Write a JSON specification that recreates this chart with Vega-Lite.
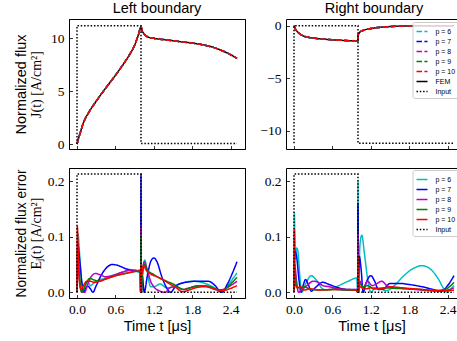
{
  "$schema": "https://vega.github.io/schema/vega-lite/v6.json",
  "background": "white",
  "padding": {"left": 12, "right": 0, "top": 0, "bottom": 0},
  "columns": 2,
  "spacing": {"row": 15, "column": 13},
  "resolve": {"scale": {"color": "independent", "strokeDash": "independent"}},
  "datasets": {
    "tl": [
      {"s":"FEM","t":0,"v":0},{"s":"FEM","t":0.02,"v":0.45},{"s":"FEM","t":0.05,"v":1.05},{"s":"FEM","t":0.1,"v":2.0},{"s":"FEM","t":0.2,"v":3.15},{"s":"FEM","t":0.3,"v":4.05},{"s":"FEM","t":0.4,"v":4.9},{"s":"FEM","t":0.5,"v":5.7},{"s":"FEM","t":0.6,"v":6.5},{"s":"FEM","t":0.7,"v":7.35},{"s":"FEM","t":0.8,"v":8.25},{"s":"FEM","t":0.9,"v":9.35},{"s":"FEM","t":0.96,"v":10.35},{"s":"FEM","t":1.0,"v":11.1},{"s":"FEM","t":1.02,"v":10.7},{"s":"FEM","t":1.05,"v":10.4},{"s":"FEM","t":1.1,"v":10.15},{"s":"FEM","t":1.2,"v":10.0},{"s":"FEM","t":1.4,"v":9.85},{"s":"FEM","t":1.6,"v":9.7},{"s":"FEM","t":1.8,"v":9.55},{"s":"FEM","t":2.0,"v":9.35},{"s":"FEM","t":2.1,"v":9.2},{"s":"FEM","t":2.2,"v":9.0},{"s":"FEM","t":2.3,"v":8.75},{"s":"FEM","t":2.4,"v":8.45},{"s":"FEM","t":2.5,"v":8.1},
      {"s":"p = 6","t":0,"v":0},{"s":"p = 6","t":0.02,"v":0.45},{"s":"p = 6","t":0.05,"v":1.05},{"s":"p = 6","t":0.1,"v":2.0},{"s":"p = 6","t":0.2,"v":3.15},{"s":"p = 6","t":0.3,"v":4.05},{"s":"p = 6","t":0.4,"v":4.9},{"s":"p = 6","t":0.5,"v":5.7},{"s":"p = 6","t":0.6,"v":6.5},{"s":"p = 6","t":0.7,"v":7.35},{"s":"p = 6","t":0.8,"v":8.25},{"s":"p = 6","t":0.9,"v":9.35},{"s":"p = 6","t":0.96,"v":10.35},{"s":"p = 6","t":1.0,"v":11.1},{"s":"p = 6","t":1.02,"v":10.7},{"s":"p = 6","t":1.05,"v":10.4},{"s":"p = 6","t":1.1,"v":10.15},{"s":"p = 6","t":1.2,"v":10.0},{"s":"p = 6","t":1.4,"v":9.85},{"s":"p = 6","t":1.6,"v":9.7},{"s":"p = 6","t":1.8,"v":9.55},{"s":"p = 6","t":2.0,"v":9.35},{"s":"p = 6","t":2.1,"v":9.2},{"s":"p = 6","t":2.2,"v":9.0},{"s":"p = 6","t":2.3,"v":8.75},{"s":"p = 6","t":2.4,"v":8.45},{"s":"p = 6","t":2.5,"v":8.1},
      {"s":"p = 7","t":0,"v":0},{"s":"p = 7","t":0.02,"v":0.45},{"s":"p = 7","t":0.05,"v":1.05},{"s":"p = 7","t":0.1,"v":2.0},{"s":"p = 7","t":0.2,"v":3.15},{"s":"p = 7","t":0.3,"v":4.05},{"s":"p = 7","t":0.4,"v":4.9},{"s":"p = 7","t":0.5,"v":5.7},{"s":"p = 7","t":0.6,"v":6.5},{"s":"p = 7","t":0.7,"v":7.35},{"s":"p = 7","t":0.8,"v":8.25},{"s":"p = 7","t":0.9,"v":9.35},{"s":"p = 7","t":0.96,"v":10.35},{"s":"p = 7","t":1.0,"v":11.1},{"s":"p = 7","t":1.02,"v":10.7},{"s":"p = 7","t":1.05,"v":10.4},{"s":"p = 7","t":1.1,"v":10.15},{"s":"p = 7","t":1.2,"v":10.0},{"s":"p = 7","t":1.4,"v":9.85},{"s":"p = 7","t":1.6,"v":9.7},{"s":"p = 7","t":1.8,"v":9.55},{"s":"p = 7","t":2.0,"v":9.35},{"s":"p = 7","t":2.1,"v":9.2},{"s":"p = 7","t":2.2,"v":9.0},{"s":"p = 7","t":2.3,"v":8.75},{"s":"p = 7","t":2.4,"v":8.45},{"s":"p = 7","t":2.5,"v":8.1},
      {"s":"p = 8","t":0,"v":0},{"s":"p = 8","t":0.02,"v":0.45},{"s":"p = 8","t":0.05,"v":1.05},{"s":"p = 8","t":0.1,"v":2.0},{"s":"p = 8","t":0.2,"v":3.15},{"s":"p = 8","t":0.3,"v":4.05},{"s":"p = 8","t":0.4,"v":4.9},{"s":"p = 8","t":0.5,"v":5.7},{"s":"p = 8","t":0.6,"v":6.5},{"s":"p = 8","t":0.7,"v":7.35},{"s":"p = 8","t":0.8,"v":8.25},{"s":"p = 8","t":0.9,"v":9.35},{"s":"p = 8","t":0.96,"v":10.35},{"s":"p = 8","t":1.0,"v":11.1},{"s":"p = 8","t":1.02,"v":10.7},{"s":"p = 8","t":1.05,"v":10.4},{"s":"p = 8","t":1.1,"v":10.15},{"s":"p = 8","t":1.2,"v":10.0},{"s":"p = 8","t":1.4,"v":9.85},{"s":"p = 8","t":1.6,"v":9.7},{"s":"p = 8","t":1.8,"v":9.55},{"s":"p = 8","t":2.0,"v":9.35},{"s":"p = 8","t":2.1,"v":9.2},{"s":"p = 8","t":2.2,"v":9.0},{"s":"p = 8","t":2.3,"v":8.75},{"s":"p = 8","t":2.4,"v":8.45},{"s":"p = 8","t":2.5,"v":8.1},
      {"s":"p = 9","t":0,"v":0},{"s":"p = 9","t":0.02,"v":0.45},{"s":"p = 9","t":0.05,"v":1.05},{"s":"p = 9","t":0.1,"v":2.0},{"s":"p = 9","t":0.2,"v":3.15},{"s":"p = 9","t":0.3,"v":4.05},{"s":"p = 9","t":0.4,"v":4.9},{"s":"p = 9","t":0.5,"v":5.7},{"s":"p = 9","t":0.6,"v":6.5},{"s":"p = 9","t":0.7,"v":7.35},{"s":"p = 9","t":0.8,"v":8.25},{"s":"p = 9","t":0.9,"v":9.35},{"s":"p = 9","t":0.96,"v":10.35},{"s":"p = 9","t":1.0,"v":11.1},{"s":"p = 9","t":1.02,"v":10.7},{"s":"p = 9","t":1.05,"v":10.4},{"s":"p = 9","t":1.1,"v":10.15},{"s":"p = 9","t":1.2,"v":10.0},{"s":"p = 9","t":1.4,"v":9.85},{"s":"p = 9","t":1.6,"v":9.7},{"s":"p = 9","t":1.8,"v":9.55},{"s":"p = 9","t":2.0,"v":9.35},{"s":"p = 9","t":2.1,"v":9.2},{"s":"p = 9","t":2.2,"v":9.0},{"s":"p = 9","t":2.3,"v":8.75},{"s":"p = 9","t":2.4,"v":8.45},{"s":"p = 9","t":2.5,"v":8.1},
      {"s":"p = 10","t":0,"v":0},{"s":"p = 10","t":0.02,"v":0.45},{"s":"p = 10","t":0.05,"v":1.05},{"s":"p = 10","t":0.1,"v":2.0},{"s":"p = 10","t":0.2,"v":3.15},{"s":"p = 10","t":0.3,"v":4.05},{"s":"p = 10","t":0.4,"v":4.9},{"s":"p = 10","t":0.5,"v":5.7},{"s":"p = 10","t":0.6,"v":6.5},{"s":"p = 10","t":0.7,"v":7.35},{"s":"p = 10","t":0.8,"v":8.25},{"s":"p = 10","t":0.9,"v":9.35},{"s":"p = 10","t":0.96,"v":10.35},{"s":"p = 10","t":1.0,"v":11.1},{"s":"p = 10","t":1.02,"v":10.7},{"s":"p = 10","t":1.05,"v":10.4},{"s":"p = 10","t":1.1,"v":10.15},{"s":"p = 10","t":1.2,"v":10.0},{"s":"p = 10","t":1.4,"v":9.85},{"s":"p = 10","t":1.6,"v":9.7},{"s":"p = 10","t":1.8,"v":9.55},{"s":"p = 10","t":2.0,"v":9.35},{"s":"p = 10","t":2.1,"v":9.2},{"s":"p = 10","t":2.2,"v":9.0},{"s":"p = 10","t":2.3,"v":8.75},{"s":"p = 10","t":2.4,"v":8.45},{"s":"p = 10","t":2.5,"v":8.1},
      {"s":"Input","t":0,"v":0},{"s":"Input","t":0,"v":11.2},{"s":"Input","t":1.0,"v":11.2},{"s":"Input","t":1.0,"v":0.05},{"s":"Input","t":2.5,"v":0.05}
    ],
    "tr": [
      {"s":"FEM","t":0,"v":0},{"s":"FEM","t":0.02,"v":-0.3},{"s":"FEM","t":0.05,"v":-0.55},{"s":"FEM","t":0.1,"v":-0.82},{"s":"FEM","t":0.15,"v":-0.98},{"s":"FEM","t":0.2,"v":-1.08},{"s":"FEM","t":0.3,"v":-1.18},{"s":"FEM","t":0.4,"v":-1.25},{"s":"FEM","t":0.5,"v":-1.3},{"s":"FEM","t":0.6,"v":-1.34},{"s":"FEM","t":0.7,"v":-1.38},{"s":"FEM","t":0.8,"v":-1.41},{"s":"FEM","t":0.9,"v":-1.44},{"s":"FEM","t":1.0,"v":-1.48},{"s":"FEM","t":1.005,"v":-0.85},{"s":"FEM","t":1.02,"v":-0.68},{"s":"FEM","t":1.05,"v":-0.52},{"s":"FEM","t":1.1,"v":-0.4},{"s":"FEM","t":1.2,"v":-0.27},{"s":"FEM","t":1.3,"v":-0.18},{"s":"FEM","t":1.45,"v":-0.1},{"s":"FEM","t":1.6,"v":-0.05},{"s":"FEM","t":1.8,"v":-0.02},{"s":"FEM","t":2.0,"v":-0.01},{"s":"FEM","t":2.2,"v":0},{"s":"FEM","t":2.5,"v":0},
      {"s":"p = 6","t":0,"v":0},{"s":"p = 6","t":0.02,"v":-0.3},{"s":"p = 6","t":0.05,"v":-0.55},{"s":"p = 6","t":0.1,"v":-0.82},{"s":"p = 6","t":0.15,"v":-0.98},{"s":"p = 6","t":0.2,"v":-1.08},{"s":"p = 6","t":0.3,"v":-1.18},{"s":"p = 6","t":0.4,"v":-1.25},{"s":"p = 6","t":0.5,"v":-1.3},{"s":"p = 6","t":0.6,"v":-1.34},{"s":"p = 6","t":0.7,"v":-1.38},{"s":"p = 6","t":0.8,"v":-1.41},{"s":"p = 6","t":0.9,"v":-1.44},{"s":"p = 6","t":1.0,"v":-1.48},{"s":"p = 6","t":1.005,"v":-0.85},{"s":"p = 6","t":1.02,"v":-0.68},{"s":"p = 6","t":1.05,"v":-0.52},{"s":"p = 6","t":1.1,"v":-0.4},{"s":"p = 6","t":1.2,"v":-0.27},{"s":"p = 6","t":1.3,"v":-0.18},{"s":"p = 6","t":1.45,"v":-0.1},{"s":"p = 6","t":1.6,"v":-0.05},{"s":"p = 6","t":1.8,"v":-0.02},{"s":"p = 6","t":2.0,"v":-0.01},{"s":"p = 6","t":2.2,"v":0},{"s":"p = 6","t":2.5,"v":0},
      {"s":"p = 7","t":0,"v":0},{"s":"p = 7","t":0.02,"v":-0.3},{"s":"p = 7","t":0.05,"v":-0.55},{"s":"p = 7","t":0.1,"v":-0.82},{"s":"p = 7","t":0.15,"v":-0.98},{"s":"p = 7","t":0.2,"v":-1.08},{"s":"p = 7","t":0.3,"v":-1.18},{"s":"p = 7","t":0.4,"v":-1.25},{"s":"p = 7","t":0.5,"v":-1.3},{"s":"p = 7","t":0.6,"v":-1.34},{"s":"p = 7","t":0.7,"v":-1.38},{"s":"p = 7","t":0.8,"v":-1.41},{"s":"p = 7","t":0.9,"v":-1.44},{"s":"p = 7","t":1.0,"v":-1.48},{"s":"p = 7","t":1.005,"v":-0.85},{"s":"p = 7","t":1.02,"v":-0.68},{"s":"p = 7","t":1.05,"v":-0.52},{"s":"p = 7","t":1.1,"v":-0.4},{"s":"p = 7","t":1.2,"v":-0.27},{"s":"p = 7","t":1.3,"v":-0.18},{"s":"p = 7","t":1.45,"v":-0.1},{"s":"p = 7","t":1.6,"v":-0.05},{"s":"p = 7","t":1.8,"v":-0.02},{"s":"p = 7","t":2.0,"v":-0.01},{"s":"p = 7","t":2.2,"v":0},{"s":"p = 7","t":2.5,"v":0},
      {"s":"p = 8","t":0,"v":0},{"s":"p = 8","t":0.02,"v":-0.3},{"s":"p = 8","t":0.05,"v":-0.55},{"s":"p = 8","t":0.1,"v":-0.82},{"s":"p = 8","t":0.15,"v":-0.98},{"s":"p = 8","t":0.2,"v":-1.08},{"s":"p = 8","t":0.3,"v":-1.18},{"s":"p = 8","t":0.4,"v":-1.25},{"s":"p = 8","t":0.5,"v":-1.3},{"s":"p = 8","t":0.6,"v":-1.34},{"s":"p = 8","t":0.7,"v":-1.38},{"s":"p = 8","t":0.8,"v":-1.41},{"s":"p = 8","t":0.9,"v":-1.44},{"s":"p = 8","t":1.0,"v":-1.48},{"s":"p = 8","t":1.005,"v":-0.85},{"s":"p = 8","t":1.02,"v":-0.68},{"s":"p = 8","t":1.05,"v":-0.52},{"s":"p = 8","t":1.1,"v":-0.4},{"s":"p = 8","t":1.2,"v":-0.27},{"s":"p = 8","t":1.3,"v":-0.18},{"s":"p = 8","t":1.45,"v":-0.1},{"s":"p = 8","t":1.6,"v":-0.05},{"s":"p = 8","t":1.8,"v":-0.02},{"s":"p = 8","t":2.0,"v":-0.01},{"s":"p = 8","t":2.2,"v":0},{"s":"p = 8","t":2.5,"v":0},
      {"s":"p = 9","t":0,"v":0},{"s":"p = 9","t":0.02,"v":-0.3},{"s":"p = 9","t":0.05,"v":-0.55},{"s":"p = 9","t":0.1,"v":-0.82},{"s":"p = 9","t":0.15,"v":-0.98},{"s":"p = 9","t":0.2,"v":-1.08},{"s":"p = 9","t":0.3,"v":-1.18},{"s":"p = 9","t":0.4,"v":-1.25},{"s":"p = 9","t":0.5,"v":-1.3},{"s":"p = 9","t":0.6,"v":-1.34},{"s":"p = 9","t":0.7,"v":-1.38},{"s":"p = 9","t":0.8,"v":-1.41},{"s":"p = 9","t":0.9,"v":-1.44},{"s":"p = 9","t":1.0,"v":-1.48},{"s":"p = 9","t":1.005,"v":-0.85},{"s":"p = 9","t":1.02,"v":-0.68},{"s":"p = 9","t":1.05,"v":-0.52},{"s":"p = 9","t":1.1,"v":-0.4},{"s":"p = 9","t":1.2,"v":-0.27},{"s":"p = 9","t":1.3,"v":-0.18},{"s":"p = 9","t":1.45,"v":-0.1},{"s":"p = 9","t":1.6,"v":-0.05},{"s":"p = 9","t":1.8,"v":-0.02},{"s":"p = 9","t":2.0,"v":-0.01},{"s":"p = 9","t":2.2,"v":0},{"s":"p = 9","t":2.5,"v":0},
      {"s":"p = 10","t":0,"v":0},{"s":"p = 10","t":0.02,"v":-0.3},{"s":"p = 10","t":0.05,"v":-0.55},{"s":"p = 10","t":0.1,"v":-0.82},{"s":"p = 10","t":0.15,"v":-0.98},{"s":"p = 10","t":0.2,"v":-1.08},{"s":"p = 10","t":0.3,"v":-1.18},{"s":"p = 10","t":0.4,"v":-1.25},{"s":"p = 10","t":0.5,"v":-1.3},{"s":"p = 10","t":0.6,"v":-1.34},{"s":"p = 10","t":0.7,"v":-1.38},{"s":"p = 10","t":0.8,"v":-1.41},{"s":"p = 10","t":0.9,"v":-1.44},{"s":"p = 10","t":1.0,"v":-1.48},{"s":"p = 10","t":1.005,"v":-0.85},{"s":"p = 10","t":1.02,"v":-0.68},{"s":"p = 10","t":1.05,"v":-0.52},{"s":"p = 10","t":1.1,"v":-0.4},{"s":"p = 10","t":1.2,"v":-0.27},{"s":"p = 10","t":1.3,"v":-0.18},{"s":"p = 10","t":1.45,"v":-0.1},{"s":"p = 10","t":1.6,"v":-0.05},{"s":"p = 10","t":1.8,"v":-0.02},{"s":"p = 10","t":2.0,"v":-0.01},{"s":"p = 10","t":2.2,"v":0},{"s":"p = 10","t":2.5,"v":0},
      {"s":"Input","t":0,"v":-11.2},{"s":"Input","t":0,"v":0},{"s":"Input","t":1.0,"v":0},{"s":"Input","t":1.0,"v":-11.2},{"s":"Input","t":2.5,"v":-11.2}
    ],
    "bl": [
      {"s":"p = 6","t":0,"v":0},{"s":"p = 6","t":0.015,"v":0.106},{"s":"p = 6","t":0.04,"v":0.07},{"s":"p = 6","t":0.07,"v":0.02},{"s":"p = 6","t":0.1,"v":0.0},{"s":"p = 6","t":0.13,"v":0.012},{"s":"p = 6","t":0.17,"v":0.018},{"s":"p = 6","t":0.21,"v":0.012},{"s":"p = 6","t":0.25,"v":0.015},{"s":"p = 6","t":0.3,"v":0.02},{"s":"p = 6","t":0.4,"v":0.024},{"s":"p = 6","t":0.5,"v":0.028},{"s":"p = 6","t":0.6,"v":0.032},{"s":"p = 6","t":0.7,"v":0.036},{"s":"p = 6","t":0.8,"v":0.039},{"s":"p = 6","t":0.9,"v":0.038},{"s":"p = 6","t":0.98,"v":0.035},{"s":"p = 6","t":0.995,"v":0},{"s":"p = 6","t":1.0,"v":0.09},{"s":"p = 6","t":1.005,"v":0},{"s":"p = 6","t":1.03,"v":0.04},{"s":"p = 6","t":1.06,"v":0.058},{"s":"p = 6","t":1.1,"v":0.035},{"s":"p = 6","t":1.15,"v":0.01},{"s":"p = 6","t":1.2,"v":0.01},{"s":"p = 6","t":1.3,"v":0.015},{"s":"p = 6","t":1.4,"v":0.008},{"s":"p = 6","t":1.5,"v":0.01},{"s":"p = 6","t":1.6,"v":0.015},{"s":"p = 6","t":1.8,"v":0.02},{"s":"p = 6","t":2.0,"v":0.016},{"s":"p = 6","t":2.15,"v":0.008},{"s":"p = 6","t":2.25,"v":0.0},{"s":"p = 6","t":2.35,"v":0.012},{"s":"p = 6","t":2.5,"v":0.035},
      {"s":"p = 7","t":0,"v":0},{"s":"p = 7","t":0.01,"v":0.088},{"s":"p = 7","t":0.04,"v":0.06},{"s":"p = 7","t":0.08,"v":0.015},{"s":"p = 7","t":0.11,"v":0.0},{"s":"p = 7","t":0.14,"v":0.008},{"s":"p = 7","t":0.17,"v":0.011},{"s":"p = 7","t":0.21,"v":0.006},{"s":"p = 7","t":0.25,"v":0.0},{"s":"p = 7","t":0.3,"v":0.012},{"s":"p = 7","t":0.4,"v":0.035},{"s":"p = 7","t":0.5,"v":0.048},{"s":"p = 7","t":0.55,"v":0.05},{"s":"p = 7","t":0.65,"v":0.048},{"s":"p = 7","t":0.75,"v":0.043},{"s":"p = 7","t":0.85,"v":0.04},{"s":"p = 7","t":0.95,"v":0.039},{"s":"p = 7","t":0.99,"v":0.04},{"s":"p = 7","t":0.995,"v":0},{"s":"p = 7","t":1.0,"v":0.213},{"s":"p = 7","t":1.005,"v":0},{"s":"p = 7","t":1.02,"v":0.03},{"s":"p = 7","t":1.05,"v":0.0},{"s":"p = 7","t":1.1,"v":0.03},{"s":"p = 7","t":1.15,"v":0.055},{"s":"p = 7","t":1.2,"v":0.062},{"s":"p = 7","t":1.25,"v":0.055},{"s":"p = 7","t":1.32,"v":0.03},{"s":"p = 7","t":1.4,"v":0.008},{"s":"p = 7","t":1.46,"v":0},{"s":"p = 7","t":1.55,"v":0.012},{"s":"p = 7","t":1.7,"v":0.018},{"s":"p = 7","t":1.9,"v":0.02},{"s":"p = 7","t":2.05,"v":0.02},{"s":"p = 7","t":2.15,"v":0.013},{"s":"p = 7","t":2.26,"v":0},{"s":"p = 7","t":2.35,"v":0.015},{"s":"p = 7","t":2.43,"v":0.035},{"s":"p = 7","t":2.5,"v":0.055},
      {"s":"p = 8","t":0,"v":0},{"s":"p = 8","t":0.01,"v":0.05},{"s":"p = 8","t":0.04,"v":0.02},{"s":"p = 8","t":0.08,"v":0.0},{"s":"p = 8","t":0.12,"v":0.0},{"s":"p = 8","t":0.16,"v":0.012},{"s":"p = 8","t":0.22,"v":0.028},{"s":"p = 8","t":0.29,"v":0.034},{"s":"p = 8","t":0.35,"v":0.032},{"s":"p = 8","t":0.45,"v":0.028},{"s":"p = 8","t":0.55,"v":0.03},{"s":"p = 8","t":0.7,"v":0.036},{"s":"p = 8","t":0.85,"v":0.04},{"s":"p = 8","t":0.95,"v":0.039},{"s":"p = 8","t":0.99,"v":0.038},{"s":"p = 8","t":0.995,"v":0},{"s":"p = 8","t":1.0,"v":0.12},{"s":"p = 8","t":1.005,"v":0},{"s":"p = 8","t":1.02,"v":0.03},{"s":"p = 8","t":1.05,"v":0.055},{"s":"p = 8","t":1.1,"v":0.04},{"s":"p = 8","t":1.15,"v":0.02},{"s":"p = 8","t":1.2,"v":0.01},{"s":"p = 8","t":1.3,"v":0.002},{"s":"p = 8","t":1.38,"v":0.0},{"s":"p = 8","t":1.45,"v":0.008},{"s":"p = 8","t":1.55,"v":0.01},{"s":"p = 8","t":1.65,"v":0.005},{"s":"p = 8","t":1.75,"v":0.008},{"s":"p = 8","t":1.9,"v":0.012},{"s":"p = 8","t":2.05,"v":0.01},{"s":"p = 8","t":2.2,"v":0.004},{"s":"p = 8","t":2.3,"v":0.006},{"s":"p = 8","t":2.4,"v":0.012},{"s":"p = 8","t":2.5,"v":0.02},
      {"s":"p = 9","t":0,"v":0},{"s":"p = 9","t":0.01,"v":0.08},{"s":"p = 9","t":0.04,"v":0.03},{"s":"p = 9","t":0.07,"v":0.0},{"s":"p = 9","t":0.1,"v":0.005},{"s":"p = 9","t":0.15,"v":0.018},{"s":"p = 9","t":0.2,"v":0.025},{"s":"p = 9","t":0.27,"v":0.022},{"s":"p = 9","t":0.35,"v":0.02},{"s":"p = 9","t":0.45,"v":0.024},{"s":"p = 9","t":0.6,"v":0.03},{"s":"p = 9","t":0.8,"v":0.035},{"s":"p = 9","t":0.95,"v":0.038},{"s":"p = 9","t":0.99,"v":0.038},{"s":"p = 9","t":0.995,"v":0},{"s":"p = 9","t":1.0,"v":0.102},{"s":"p = 9","t":1.005,"v":0},{"s":"p = 9","t":1.02,"v":0.03},{"s":"p = 9","t":1.05,"v":0.05},{"s":"p = 9","t":1.1,"v":0.04},{"s":"p = 9","t":1.2,"v":0.032},{"s":"p = 9","t":1.3,"v":0.025},{"s":"p = 9","t":1.4,"v":0.02},{"s":"p = 9","t":1.5,"v":0.015},{"s":"p = 9","t":1.6,"v":0.008},{"s":"p = 9","t":1.68,"v":0.005},{"s":"p = 9","t":1.8,"v":0.009},{"s":"p = 9","t":1.95,"v":0.012},{"s":"p = 9","t":2.05,"v":0.011},{"s":"p = 9","t":2.2,"v":0.005},{"s":"p = 9","t":2.28,"v":0.004},{"s":"p = 9","t":2.4,"v":0.015},{"s":"p = 9","t":2.5,"v":0.027},
      {"s":"p = 10","t":0,"v":0},{"s":"p = 10","t":0.005,"v":0.119},{"s":"p = 10","t":0.03,"v":0.03},{"s":"p = 10","t":0.06,"v":0.005},{"s":"p = 10","t":0.1,"v":0.012},{"s":"p = 10","t":0.15,"v":0.02},{"s":"p = 10","t":0.2,"v":0.02},{"s":"p = 10","t":0.27,"v":0.018},{"s":"p = 10","t":0.35,"v":0.02},{"s":"p = 10","t":0.5,"v":0.026},{"s":"p = 10","t":0.65,"v":0.031},{"s":"p = 10","t":0.8,"v":0.035},{"s":"p = 10","t":0.95,"v":0.038},{"s":"p = 10","t":0.99,"v":0.038},{"s":"p = 10","t":0.995,"v":0},{"s":"p = 10","t":1.0,"v":0.05},{"s":"p = 10","t":1.005,"v":0.03},{"s":"p = 10","t":1.04,"v":0.048},{"s":"p = 10","t":1.08,"v":0.04},{"s":"p = 10","t":1.15,"v":0.033},{"s":"p = 10","t":1.25,"v":0.028},{"s":"p = 10","t":1.35,"v":0.022},{"s":"p = 10","t":1.45,"v":0.015},{"s":"p = 10","t":1.55,"v":0.008},{"s":"p = 10","t":1.65,"v":0.001},{"s":"p = 10","t":1.75,"v":0.004},{"s":"p = 10","t":1.85,"v":0.008},{"s":"p = 10","t":2.0,"v":0.01},{"s":"p = 10","t":2.15,"v":0.006},{"s":"p = 10","t":2.28,"v":0.003},{"s":"p = 10","t":2.4,"v":0.007},{"s":"p = 10","t":2.5,"v":0.012},
      {"s":"Input","t":0,"v":0},{"s":"Input","t":0,"v":0.213},{"s":"Input","t":1.0,"v":0.213},{"s":"Input","t":1.0,"v":0},{"s":"Input","t":2.5,"v":0}
    ],
    "br": [
      {"s":"p = 6","t":0,"v":0},{"s":"p = 6","t":0.005,"v":0.143},{"s":"p = 6","t":0.02,"v":0.06},{"s":"p = 6","t":0.04,"v":0.08},{"s":"p = 6","t":0.06,"v":0.075},{"s":"p = 6","t":0.09,"v":0.03},{"s":"p = 6","t":0.12,"v":0.0},{"s":"p = 6","t":0.18,"v":0.015},{"s":"p = 6","t":0.27,"v":0.03},{"s":"p = 6","t":0.35,"v":0.022},{"s":"p = 6","t":0.45,"v":0.006},{"s":"p = 6","t":0.55,"v":0.004},{"s":"p = 6","t":0.7,"v":0.012},{"s":"p = 6","t":0.85,"v":0.02},{"s":"p = 6","t":0.98,"v":0.026},{"s":"p = 6","t":0.995,"v":0},{"s":"p = 6","t":1.0,"v":0.2},{"s":"p = 6","t":1.005,"v":0},{"s":"p = 6","t":1.03,"v":0.085},{"s":"p = 6","t":1.06,"v":0.103},{"s":"p = 6","t":1.1,"v":0.07},{"s":"p = 6","t":1.15,"v":0.025},{"s":"p = 6","t":1.2,"v":0.0},{"s":"p = 6","t":1.27,"v":0.008},{"s":"p = 6","t":1.35,"v":0.006},{"s":"p = 6","t":1.45,"v":0.003},{"s":"p = 6","t":1.55,"v":0.01},{"s":"p = 6","t":1.7,"v":0.028},{"s":"p = 6","t":1.85,"v":0.042},{"s":"p = 6","t":2.0,"v":0.048},{"s":"p = 6","t":2.12,"v":0.043},{"s":"p = 6","t":2.25,"v":0.025},{"s":"p = 6","t":2.35,"v":0.005},{"s":"p = 6","t":2.4,"v":0.0},{"s":"p = 6","t":2.45,"v":0.006},{"s":"p = 6","t":2.5,"v":0.012},
      {"s":"p = 7","t":0,"v":0},{"s":"p = 7","t":0.01,"v":0.075},{"s":"p = 7","t":0.04,"v":0.065},{"s":"p = 7","t":0.08,"v":0.02},{"s":"p = 7","t":0.11,"v":0.0},{"s":"p = 7","t":0.15,"v":0.015},{"s":"p = 7","t":0.18,"v":0.023},{"s":"p = 7","t":0.22,"v":0.015},{"s":"p = 7","t":0.27,"v":0.002},{"s":"p = 7","t":0.33,"v":0.008},{"s":"p = 7","t":0.45,"v":0.018},{"s":"p = 7","t":0.55,"v":0.014},{"s":"p = 7","t":0.7,"v":0.008},{"s":"p = 7","t":0.85,"v":0.005},{"s":"p = 7","t":0.98,"v":0.005},{"s":"p = 7","t":0.995,"v":0},{"s":"p = 7","t":1.0,"v":0.16},{"s":"p = 7","t":1.005,"v":0},{"s":"p = 7","t":1.02,"v":0.065},{"s":"p = 7","t":1.05,"v":0.04},{"s":"p = 7","t":1.08,"v":0.0},{"s":"p = 7","t":1.13,"v":0.018},{"s":"p = 7","t":1.2,"v":0.03},{"s":"p = 7","t":1.26,"v":0.02},{"s":"p = 7","t":1.32,"v":0.005},{"s":"p = 7","t":1.4,"v":0.006},{"s":"p = 7","t":1.5,"v":0.016},{"s":"p = 7","t":1.65,"v":0.016},{"s":"p = 7","t":1.8,"v":0.014},{"s":"p = 7","t":2.0,"v":0.01},{"s":"p = 7","t":2.15,"v":0.006},{"s":"p = 7","t":2.3,"v":0.002},{"s":"p = 7","t":2.4,"v":0.012},{"s":"p = 7","t":2.5,"v":0.03},
      {"s":"p = 8","t":0,"v":0},{"s":"p = 8","t":0.01,"v":0.05},{"s":"p = 8","t":0.04,"v":0.02},{"s":"p = 8","t":0.07,"v":0.0},{"s":"p = 8","t":0.12,"v":0.005},{"s":"p = 8","t":0.2,"v":0.012},{"s":"p = 8","t":0.3,"v":0.02},{"s":"p = 8","t":0.38,"v":0.018},{"s":"p = 8","t":0.45,"v":0.012},{"s":"p = 8","t":0.55,"v":0.01},{"s":"p = 8","t":0.7,"v":0.006},{"s":"p = 8","t":0.85,"v":0.004},{"s":"p = 8","t":0.98,"v":0.004},{"s":"p = 8","t":0.995,"v":0},{"s":"p = 8","t":1.0,"v":0.105},{"s":"p = 8","t":1.005,"v":0},{"s":"p = 8","t":1.03,"v":0.02},{"s":"p = 8","t":1.08,"v":0.008},{"s":"p = 8","t":1.15,"v":0.02},{"s":"p = 8","t":1.22,"v":0.012},{"s":"p = 8","t":1.3,"v":0.016},{"s":"p = 8","t":1.37,"v":0.02},{"s":"p = 8","t":1.45,"v":0.012},{"s":"p = 8","t":1.55,"v":0.008},{"s":"p = 8","t":1.7,"v":0.007},{"s":"p = 8","t":1.9,"v":0.005},{"s":"p = 8","t":2.1,"v":0.003},{"s":"p = 8","t":2.3,"v":0.002},{"s":"p = 8","t":2.4,"v":0.004},{"s":"p = 8","t":2.5,"v":0.008},
      {"s":"p = 9","t":0,"v":0},{"s":"p = 9","t":0.01,"v":0.04},{"s":"p = 9","t":0.04,"v":0.012},{"s":"p = 9","t":0.08,"v":0.008},{"s":"p = 9","t":0.15,"v":0.01},{"s":"p = 9","t":0.25,"v":0.006},{"s":"p = 9","t":0.4,"v":0.004},{"s":"p = 9","t":0.6,"v":0.005},{"s":"p = 9","t":0.8,"v":0.004},{"s":"p = 9","t":0.98,"v":0.004},{"s":"p = 9","t":0.995,"v":0},{"s":"p = 9","t":1.0,"v":0.065},{"s":"p = 9","t":1.005,"v":0},{"s":"p = 9","t":1.03,"v":0.015},{"s":"p = 9","t":1.08,"v":0.01},{"s":"p = 9","t":1.15,"v":0.012},{"s":"p = 9","t":1.25,"v":0.006},{"s":"p = 9","t":1.4,"v":0.008},{"s":"p = 9","t":1.6,"v":0.007},{"s":"p = 9","t":1.8,"v":0.006},{"s":"p = 9","t":2.0,"v":0.005},{"s":"p = 9","t":2.2,"v":0.003},{"s":"p = 9","t":2.35,"v":0.005},{"s":"p = 9","t":2.45,"v":0.012},{"s":"p = 9","t":2.5,"v":0.018},
      {"s":"p = 10","t":0,"v":0},{"s":"p = 10","t":0.005,"v":0.112},{"s":"p = 10","t":0.02,"v":0.015},{"s":"p = 10","t":0.05,"v":0.008},{"s":"p = 10","t":0.1,"v":0.01},{"s":"p = 10","t":0.15,"v":0.004},{"s":"p = 10","t":0.25,"v":0.006},{"s":"p = 10","t":0.4,"v":0.004},{"s":"p = 10","t":0.6,"v":0.005},{"s":"p = 10","t":0.8,"v":0.005},{"s":"p = 10","t":0.98,"v":0.004},{"s":"p = 10","t":0.995,"v":0},{"s":"p = 10","t":1.0,"v":0.065},{"s":"p = 10","t":1.005,"v":0.005},{"s":"p = 10","t":1.03,"v":0.01},{"s":"p = 10","t":1.1,"v":0.006},{"s":"p = 10","t":1.2,"v":0.008},{"s":"p = 10","t":1.35,"v":0.006},{"s":"p = 10","t":1.5,"v":0.01},{"s":"p = 10","t":1.7,"v":0.008},{"s":"p = 10","t":1.9,"v":0.006},{"s":"p = 10","t":2.1,"v":0.004},{"s":"p = 10","t":2.3,"v":0.003},{"s":"p = 10","t":2.5,"v":0.004},
      {"s":"Input","t":0,"v":0},{"s":"Input","t":0,"v":0.213},{"s":"Input","t":1.0,"v":0.213},{"s":"Input","t":1.0,"v":0},{"s":"Input","t":2.5,"v":0}
    ]
  },
  "concat": [
    {
      "title": {"text": "Left boundary"},
      "width": 176, "height": 130,
      "data": {"name": "tl"},
      "encoding": {
        "color": {"field": "s", "type": "nominal", "scale": {"domain": ["p = 6","p = 7","p = 8","p = 9","p = 10","FEM","Input"], "range": ["#00bfbf","#0000ff","#bf00bf","#008000","#ff0000","#000000","#000000"]}, "legend": null},
        "strokeDash": {"field": "s", "type": "nominal", "scale": {"domain": ["p = 6","p = 7","p = 8","p = 9","p = 10","FEM","Input"], "range": [[5.5,2.4],[5.5,2.4],[5.5,2.4],[5.5,2.4],[5.5,2.4],[1,0],[1.5,1.8]]}, "legend": null},
        "order": {"value": null}
      },
      "layer": [
        {"transform": [{"filter": "datum.s == 'FEM'"}], "mark": {"type": "line", "interpolate": "monotone"},
         "encoding": {
           "x": {"field": "t", "type": "quantitative", "scale": {"domain": [-0.125, 2.625], "nice": false, "zero": false}, "axis": null},
           "y": {"field": "v", "type": "quantitative", "scale": {"domain": [-0.47, 11.83], "nice": false, "zero": false}, "axis": null}}},
        {"transform": [{"filter": "datum.s != 'FEM' && datum.s != 'Input'"}], "mark": {"type": "line", "interpolate": "monotone"},
         "encoding": {
           "x": {"field": "t", "type": "quantitative", "scale": {"domain": [-0.125, 2.625], "nice": false, "zero": false}, "axis": {"orient": "bottom", "values": [0, 0.6, 1.2, 1.8, 2.4], "labels": false, "title": null}},
           "y": {"field": "v", "type": "quantitative", "scale": {"domain": [-0.47, 11.83], "nice": false, "zero": false}, "axis": {"orient": "left", "values": [0, 5, 10], "format": "d", "title": "Normalized flux", "titleX": -48, "titleBaseline": "middle"}}}},
        {"transform": [{"filter": "datum.s == 'Input'"}], "mark": {"type": "line"},
         "encoding": {
           "x": {"field": "t", "type": "quantitative", "scale": {"domain": [-0.125, 2.625], "nice": false, "zero": false}, "axis": {"orient": "top", "labels": false, "ticks": false, "title": null}},
           "y": {"field": "v", "type": "quantitative", "scale": {"domain": [-0.47, 11.83], "nice": false, "zero": false}, "axis": {"orient": "left", "labels": false, "ticks": false, "domain": false, "title": "J(t)  [A/cm²]", "titleX": -33, "titleBaseline": "middle", "titleFont": "Liberation Serif", "titleFontSize": 14}}}}
      ],
      "resolve": {"axis": {"x": "independent", "y": "independent"}}
    },
    {
      "title": {"text": "Right boundary", "dx": 2.5},
      "width": 171, "height": 130,
      "view": {"stroke": null},
      "data": {"name": "tr"},
      "encoding": {
        "color": {"field": "s", "type": "nominal", "scale": {"domain": ["p = 6","p = 7","p = 8","p = 9","p = 10","FEM","Input"], "range": ["#00bfbf","#0000ff","#bf00bf","#008000","#ff0000","#000000","#000000"]}, "legend": {"legendX": 126.5, "legendY": 3}},
        "strokeDash": {"field": "s", "type": "nominal", "scale": {"domain": ["p = 6","p = 7","p = 8","p = 9","p = 10","FEM","Input"], "range": [[5.5,2.4],[5.5,2.4],[5.5,2.4],[5.5,2.4],[5.5,2.4],[1,0],[1.5,1.8]]}, "legend": {"legendX": 126.5, "legendY": 3}},
        "order": {"value": null}
      },
      "layer": [
        {"transform": [{"filter": "datum.s == 'FEM'"}], "mark": {"type": "line", "interpolate": "monotone"},
         "encoding": {
           "x": {"field": "t", "type": "quantitative", "scale": {"domain": [-0.125, 2.547], "nice": false, "zero": false}, "axis": null},
           "y": {"field": "v", "type": "quantitative", "scale": {"domain": [-11.74, 0.64], "nice": false, "zero": false}, "axis": null}}},
        {"transform": [{"filter": "datum.s != 'FEM' && datum.s != 'Input'"}], "mark": {"type": "line", "interpolate": "monotone"},
         "encoding": {
           "x": {"field": "t", "type": "quantitative", "scale": {"domain": [-0.125, 2.547], "nice": false, "zero": false}, "axis": {"orient": "bottom", "values": [0, 0.6, 1.2, 1.8, 2.4], "labels": false, "title": null}},
           "y": {"field": "v", "type": "quantitative", "scale": {"domain": [-11.74, 0.64], "nice": false, "zero": false}, "axis": {"orient": "left", "values": [-10, -5, 0], "format": "d", "title": null}}}},
        {"transform": [{"filter": "datum.s == 'Input'"}], "mark": {"type": "line"},
         "encoding": {
           "x": {"field": "t", "type": "quantitative", "scale": {"domain": [-0.125, 2.547], "nice": false, "zero": false}, "axis": {"orient": "top", "labels": false, "ticks": false, "title": null}},
           "y": {"field": "v", "type": "quantitative", "scale": {"domain": [-11.74, 0.64], "nice": false, "zero": false}, "axis": null}}}
      ],
      "resolve": {"axis": {"x": "independent", "y": "independent"}}
    },
    {
      "width": 176, "height": 130,
      "data": {"name": "bl"},
      "encoding": {
        "color": {"field": "s", "type": "nominal", "scale": {"domain": ["p = 6","p = 7","p = 8","p = 9","p = 10","Input"], "range": ["#00bfbf","#0000ff","#bf00bf","#008000","#ff0000","#000000"]}, "legend": null},
        "strokeDash": {"field": "s", "type": "nominal", "scale": {"domain": ["p = 6","p = 7","p = 8","p = 9","p = 10","Input"], "range": [[1,0],[1,0],[1,0],[1,0],[1,0],[1.5,1.8]]}, "legend": null},
        "order": {"value": null}
      },
      "layer": [
        {"transform": [{"filter": "datum.s != 'Input'"}], "mark": {"type": "line", "interpolate": "monotone"},
         "encoding": {
           "x": {"field": "t", "type": "quantitative", "scale": {"domain": [-0.125, 2.625], "nice": false, "zero": false}, "axis": {"orient": "bottom", "values": [0, 0.6, 1.2, 1.8, 2.4], "format": ".1f", "title": "Time t [μs]"}},
           "y": {"field": "v", "type": "quantitative", "scale": {"domain": [-0.0103, 0.224], "nice": false, "zero": false}, "axis": {"orient": "left", "values": [0, 0.1, 0.2], "format": ".1f", "title": "Normalized flux error", "titleX": -48, "titleBaseline": "middle", "titleFontSize": 13.8}}}},
        {"transform": [{"filter": "datum.s == 'Input'"}], "mark": {"type": "line"},
         "encoding": {
           "x": {"field": "t", "type": "quantitative", "scale": {"domain": [-0.125, 2.625], "nice": false, "zero": false}, "axis": {"orient": "top", "labels": false, "ticks": false, "title": null}},
           "y": {"field": "v", "type": "quantitative", "scale": {"domain": [-0.0103, 0.224], "nice": false, "zero": false}, "axis": {"orient": "left", "labels": false, "ticks": false, "domain": false, "title": "Eⱼ(t)  [A/cm²]", "titleX": -33, "titleBaseline": "middle", "titleFont": "Liberation Serif", "titleFontSize": 14}}}}
      ],
      "resolve": {"axis": {"x": "independent", "y": "independent"}}
    },
    {
      "width": 171, "height": 130,
      "view": {"stroke": null},
      "data": {"name": "br"},
      "encoding": {
        "color": {"field": "s", "type": "nominal", "scale": {"domain": ["p = 6","p = 7","p = 8","p = 9","p = 10","Input"], "range": ["#00bfbf","#0000ff","#bf00bf","#008000","#ff0000","#000000"]}, "legend": {"legendX": 126.5, "legendY": 2}},
        "strokeDash": {"field": "s", "type": "nominal", "scale": {"domain": ["p = 6","p = 7","p = 8","p = 9","p = 10","Input"], "range": [[1,0],[1,0],[1,0],[1,0],[1,0],[1.5,1.8]]}, "legend": {"legendX": 126.5, "legendY": 2}},
        "order": {"value": null}
      },
      "layer": [
        {"transform": [{"filter": "datum.s != 'Input'"}], "mark": {"type": "line", "interpolate": "monotone"},
         "encoding": {
           "x": {"field": "t", "type": "quantitative", "scale": {"domain": [-0.125, 2.547], "nice": false, "zero": false}, "axis": {"orient": "bottom", "values": [0, 0.6, 1.2, 1.8, 2.4], "format": ".1f", "title": "Time t [μs]"}},
           "y": {"field": "v", "type": "quantitative", "scale": {"domain": [-0.0103, 0.224], "nice": false, "zero": false}, "axis": {"orient": "left", "values": [0, 0.1, 0.2], "format": ".1f", "title": null}}}},
        {"transform": [{"filter": "datum.s == 'Input'"}], "mark": {"type": "line"},
         "encoding": {
           "x": {"field": "t", "type": "quantitative", "scale": {"domain": [-0.125, 2.547], "nice": false, "zero": false}, "axis": {"orient": "top", "labels": false, "ticks": false, "title": null}},
           "y": {"field": "v", "type": "quantitative", "scale": {"domain": [-0.0103, 0.224], "nice": false, "zero": false}, "axis": null}}}
      ],
      "resolve": {"axis": {"x": "independent", "y": "independent"}}
    }
  ],
  "config": {
    "view": {"stroke": "#000000", "strokeWidth": 1},
    "line": {"strokeWidth": 1.5},
    "axis": {"grid": false, "domainColor": "#000000", "domainWidth": 1, "tickColor": "#000000", "tickSize": -3.5, "tickWidth": 0.8, "labelFont": "Liberation Serif", "labelFontSize": 13.5, "labelColor": "#000000", "labelFlush": false, "labelOverlap": false, "titleFont": "Liberation Sans", "titleFontSize": 14.5, "titleFontWeight": "normal", "titleColor": "#000000"},
    "axisX": {"labelPadding": 7.5, "titlePadding": 4},
    "axisY": {"labelPadding": 8.5},
    "title": {"font": "Liberation Sans", "fontSize": 14.5, "fontWeight": "normal", "color": "#000000", "offset": 2.5},
    "legend": {"orient": "none", "title": null, "labelFont": "Liberation Sans", "labelFontSize": 7, "labelColor": "#000000", "symbolSize": 121, "symbolStrokeWidth": 1.5, "symbolType": "stroke", "padding": 3, "rowPadding": -3, "labelOffset": 7, "strokeColor": "#cccccc", "fillColor": "rgba(255,255,255,0.8)", "cornerRadius": 2}
  }
}
